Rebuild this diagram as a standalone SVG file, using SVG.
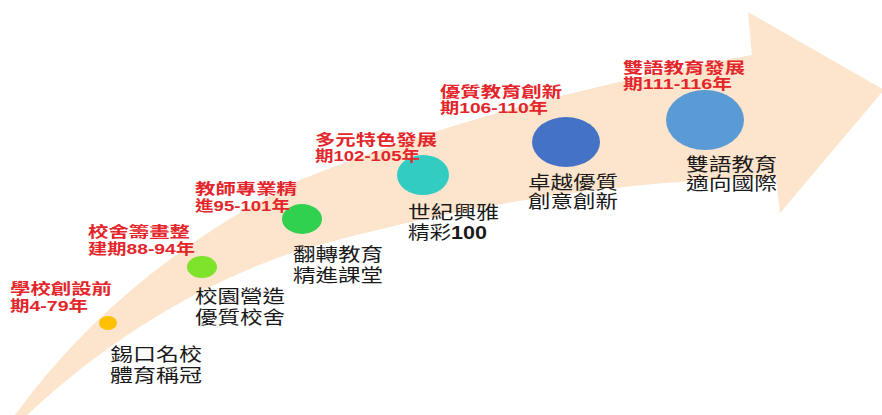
<svg xmlns="http://www.w3.org/2000/svg" width="882" height="415" viewBox="0 0 882 415">
<style>
.era{font-family:"Liberation Sans","Noto Sans CJK TC",sans-serif;font-size:15px;font-weight:bold;fill:#E3262B}
.lbl{font-family:"Liberation Sans","Noto Sans CJK TC",sans-serif;font-size:18px;fill:#1a1a1a}
</style>
<rect width="882" height="415" fill="#ffffff"/>
<g id="arrow">
<path d="M15,415 Q120,270 300,180 Q500,100 752,55 L748,12 L884,90 L780,213 L776,178 Q550,180 300,250 Q150,300 27,415 Z" fill="#FDE4CC"/>
</g>
<g id="connectors"></g>
<g id="n1">
<ellipse cx="108" cy="323" rx="9" ry="7" fill="#FFC000"/>
<text class="era" x="10" y="294" textLength="102" lengthAdjust="spacingAndGlyphs">學校創設前</text>
<text class="era" x="10" y="311" textLength="78" lengthAdjust="spacingAndGlyphs">期4-79年</text>
<text class="lbl" x="110" y="361" textLength="92" lengthAdjust="spacingAndGlyphs">錫口名校</text>
<text class="lbl" x="110" y="382" textLength="92" lengthAdjust="spacingAndGlyphs">體育稱冠</text>
</g>
<g id="n2">
<ellipse cx="202" cy="267" rx="15" ry="11" fill="#7FE32B"/>
<text class="era" x="88" y="237" textLength="102" lengthAdjust="spacingAndGlyphs">校舍籌畫整</text>
<text class="era" x="88" y="254" textLength="107" lengthAdjust="spacingAndGlyphs">建期88-94年</text>
<text class="lbl" x="195" y="303" textLength="90" lengthAdjust="spacingAndGlyphs">校園營造</text>
<text class="lbl" x="195" y="324" textLength="90" lengthAdjust="spacingAndGlyphs">優質校舍</text>
</g>
<g id="n3">
<ellipse cx="302" cy="219" rx="20" ry="15" fill="#2FD14E"/>
<text class="era" x="195" y="194" textLength="102" lengthAdjust="spacingAndGlyphs">教師專業精</text>
<text class="era" x="195" y="211" textLength="95" lengthAdjust="spacingAndGlyphs">進95-101年</text>
<text class="lbl" x="293" y="261" textLength="90" lengthAdjust="spacingAndGlyphs">翻轉教育</text>
<text class="lbl" x="293" y="282" textLength="90" lengthAdjust="spacingAndGlyphs">精進課堂</text>
</g>
<g id="n4">
<ellipse cx="423" cy="175" rx="26" ry="20" fill="#33CCC2"/>
<text class="era" x="315" y="145" textLength="122" lengthAdjust="spacingAndGlyphs">多元特色發展</text>
<text class="era" x="315" y="161" textLength="105" lengthAdjust="spacingAndGlyphs">期102-105年</text>
<text class="lbl" x="408" y="219" textLength="91" lengthAdjust="spacingAndGlyphs">世紀興雅</text>
<text class="lbl" x="408" y="239" textLength="79" lengthAdjust="spacingAndGlyphs">精彩<tspan font-weight="bold">100</tspan></text>
</g>
<g id="n5">
<ellipse cx="566" cy="142" rx="34" ry="25" fill="#4472C4"/>
<text class="era" x="440" y="97" textLength="122" lengthAdjust="spacingAndGlyphs">優質教育創新</text>
<text class="era" x="440" y="113" textLength="108" lengthAdjust="spacingAndGlyphs">期106-110年</text>
<text class="lbl" x="528" y="189" textLength="90" lengthAdjust="spacingAndGlyphs">卓越優質</text>
<text class="lbl" x="528" y="208" textLength="90" lengthAdjust="spacingAndGlyphs">創意創新</text>
</g>
<g id="n6">
<ellipse cx="705" cy="120" rx="39" ry="30" fill="#5B9BD5"/>
<text class="era" x="623" y="73" textLength="122" lengthAdjust="spacingAndGlyphs">雙語教育發展</text>
<text class="era" x="623" y="89" textLength="109" lengthAdjust="spacingAndGlyphs">期111-116年</text>
<text class="lbl" x="686" y="171" textLength="91" lengthAdjust="spacingAndGlyphs">雙語教育</text>
<text class="lbl" x="686" y="190" textLength="91" lengthAdjust="spacingAndGlyphs">適向國際</text>
</g>
</svg>
